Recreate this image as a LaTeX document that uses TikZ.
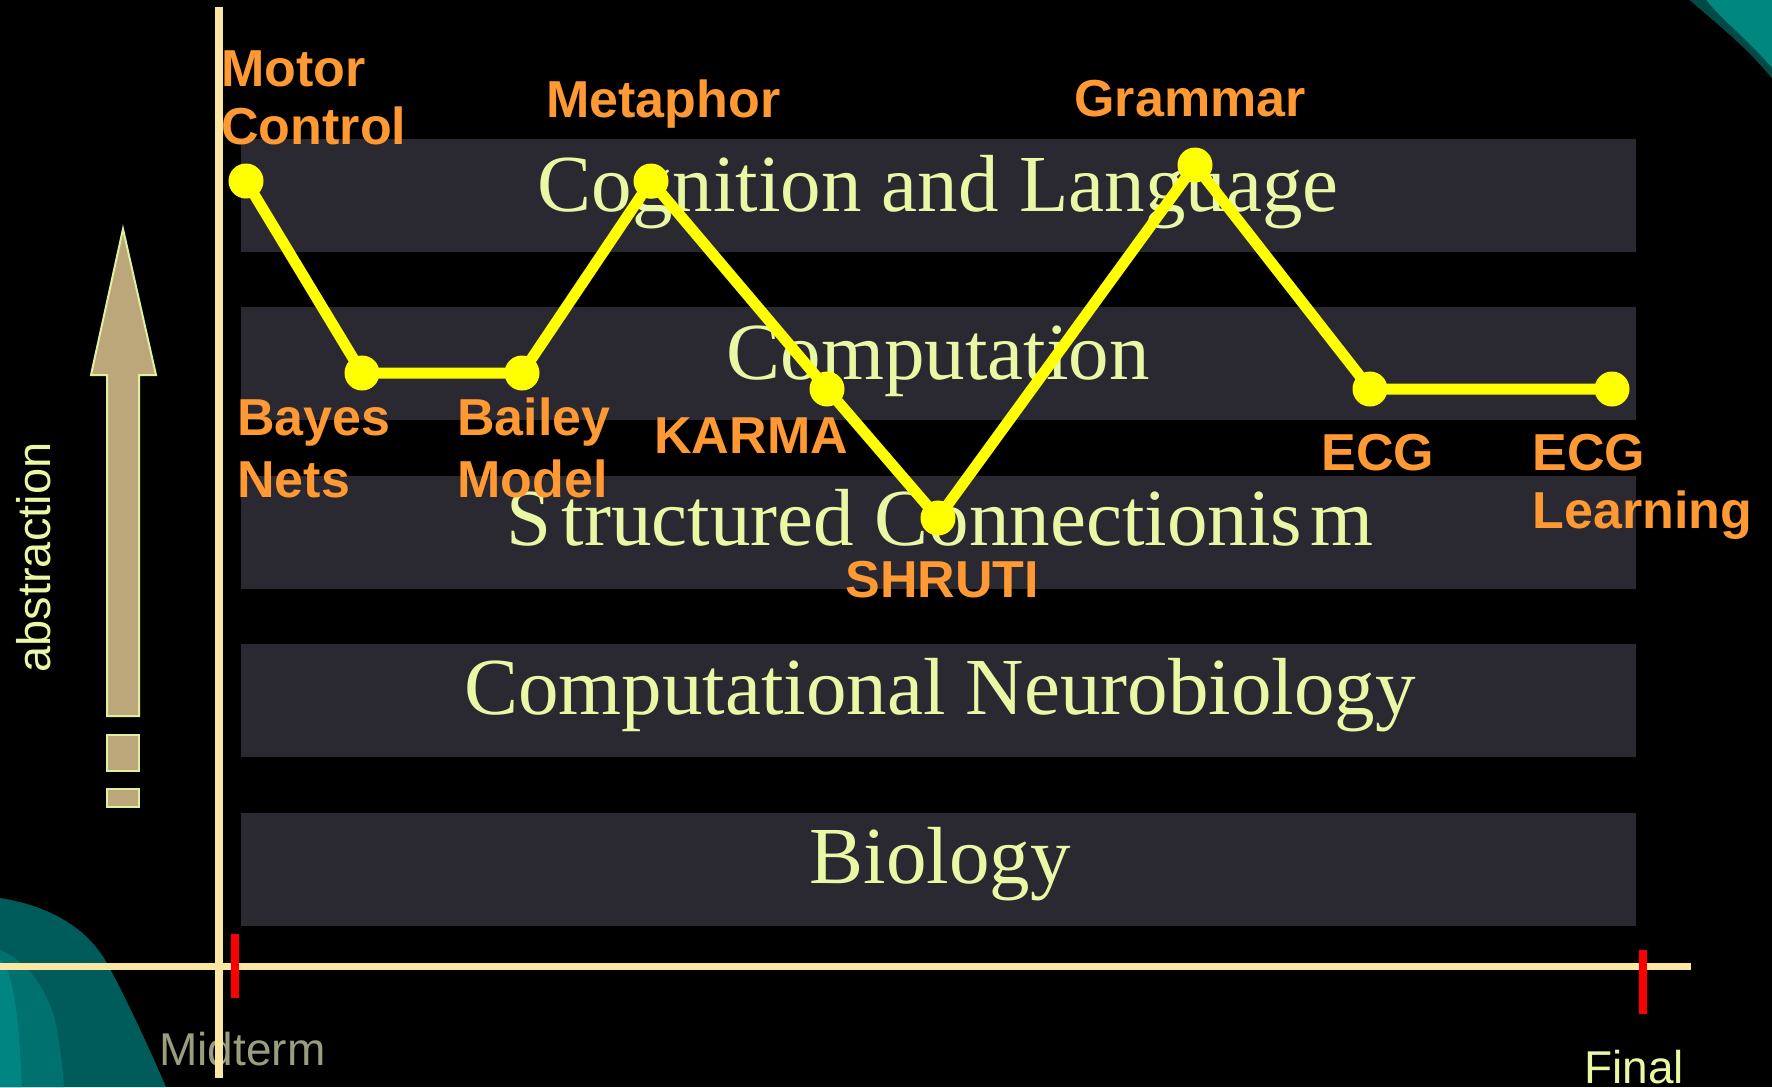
\documentclass[tikz,border=0pt]{standalone}
\usepackage{fontspec}
\newfontfamily\sanslab{Liberation Sans}
\newfontfamily\serband{Liberation Serif}
\definecolor{bandfill}{HTML}{2A2831}
\definecolor{bandtext}{HTML}{E8F8A4}
\definecolor{lineyel}{HTML}{FFFF00}
\definecolor{labor}{HTML}{FF9933}
\definecolor{axiscol}{HTML}{FBE7A4}
\definecolor{tickred}{HTML}{FF0000}
\definecolor{arrowfill}{HTML}{BBA77A}
\definecolor{arrowedge}{HTML}{E0F0A0}
\definecolor{midgray}{HTML}{9C9C80}
\definecolor{tealdark}{HTML}{005C5A}
\definecolor{tealmid}{HTML}{00716F}
\definecolor{teallight}{HTML}{008583}
\definecolor{tealtr}{HTML}{00877F}
\definecolor{tealsh}{HTML}{014A46}
\begin{document}
\begin{tikzpicture}[x=0.5pt,y=-0.5pt,
  bandtxt/.style={inner sep=0pt, text=bandtext, font=\serband\fontsize{40.5}{48}\selectfont},
  lab/.style={inner sep=0pt, anchor=base west, text=labor, font=\sanslab\bfseries\fontsize{26}{30}\selectfont},
  dot/.style={circle, fill=lineyel, minimum size=17.5pt, inner sep=0pt},
  yline/.style={draw=lineyel, line width=5.5pt, line join=round},
  axisline/.style={draw=axiscol},
  tickline/.style={draw=tickred, line width=4pt},
  arrowshape/.style={fill=arrowfill, draw=arrowedge, line width=1pt},
  smalltxt/.style={inner sep=0pt, anchor=base west, font=\sanslab\fontsize{23}{28}\selectfont}]
\fill[black] (0,0) rectangle (1772,1087);
\useasboundingbox (0,0) rectangle (1772,1087);
% teal corner shapes
\fill[tealdark] (0,898) .. controls (50,906) and (88,928) .. (108,965) .. controls (128,1002) and (150,1050) .. (166,1087) -- (0,1087) -- cycle;
\fill[tealmid] (0,950) .. controls (25,960) and (45,985) .. (55,1020) .. controls (60,1045) and (63,1070) .. (64,1087) -- (0,1087) -- cycle;
\fill[teallight] (0,960) .. controls (10,968) and (18,995) .. (22,1087) -- (0,1087) -- cycle;
\fill[tealtr] (1690,0) .. controls (1715,22) and (1745,45) .. (1772,78) -- (1772,0) -- cycle;
\fill[tealsh] (1690,0) .. controls (1715,22) and (1745,45) .. (1772,78) -- (1772,68) .. controls (1748,40) and (1722,20) .. (1706,0) -- cycle;
% bands
\fill[bandfill] (241,139) rectangle (1636,252);
\fill[bandfill] (241,307) rectangle (1636,420);
\fill[bandfill] (241,476) rectangle (1636,589);
\fill[bandfill] (241,644) rectangle (1636,757);
\fill[bandfill] (241,813) rectangle (1636,926);
\node[bandtxt, anchor=base] (tcog) at (938,211) {Cognition and Language};
\node[bandtxt, anchor=base] (tcomp) at (938,379) {Computation};
\node[bandtxt, anchor=base] (tstruct) at (940,545) {S\kern5pt tructured Connectionis\kern4pt m};
\node[bandtxt, anchor=base] (tneuro) at (940,714) {Computational Neurobiology};
\node[bandtxt, anchor=base] (tbio) at (940,883) {Biology};
% arrow
\draw[arrowshape] (123,229) -- (156,375) -- (139,375) -- (139,716) -- (107,716) -- (107,375) -- (91,375) -- cycle;
\draw[arrowshape] (107,735) rectangle (139,771);
\draw[arrowshape] (107,789) rectangle (139,807);
\node[smalltxt, text=bandtext, rotate=90, font=\sanslab\fontsize{23.5}{28}\selectfont] (abs) at (50,673) {abstraction};
% yellow path
\coordinate (p1) at (246,181);
\coordinate (p2) at (362,373);
\coordinate (p3) at (522,373);
\coordinate (p4) at (651,181);
\coordinate (p5) at (827,389);
\coordinate (p6) at (938,518);
\coordinate (p7) at (1195,165);
\coordinate (p8) at (1370,389);
\coordinate (p9) at (1612,389);
\draw[yline] (p1) -- (p2) -- (p3) -- (p4) -- (p5) -- (p6) -- (p7) -- (p8) -- (p9);
\foreach \i in {1,...,9} { \node[dot] (d\i) at (p\i) {}; }
% labels
\node[lab] (motor1) at (221,86) {Motor};
\node[lab] (motor2) at (221,144) {Control};
\node[lab] (meta) at (546,117) {Metaphor};
\node[lab] (bayes1) at (237,435) {Bayes};
\node[lab] (bayes2) at (237,497) {Nets};
\node[lab] (bailey1) at (457,435) {Bailey};
\node[lab] (bailey2) at (457,497) {Model};
\node[lab] (karma) at (654,453) {KARMA};
\node[lab] (shruti) at (845,597) {SHRUTI};
\node[lab] (gram) at (1074,116) {Grammar};
\node[lab] (ecg) at (1321,470) {ECG};
\node[lab] (ecgl1) at (1532,470) {ECG};
\node[lab] (ecgl2) at (1532,528) {Learning};
% time labels
\node[smalltxt, text=midgray] (mid) at (159,1065) {Midterm};
\node[smalltxt, text=bandtext] (fin) at (1584,1083) {Final};
% axes
\coordinate (vtop) at (219,7);
\coordinate (vbot) at (219,1078);
\coordinate (hl) at (0,966.5);
\coordinate (hr) at (1691,966.5);
\draw[axisline, line width=4pt] (vtop) -- (vbot);
\draw[axisline, line width=3.5pt] (hl) -- (hr);
\coordinate (m1) at (235,934);
\coordinate (m2) at (235,998);
\coordinate (f1) at (1643,950);
\coordinate (f2) at (1643,1014);
\draw[tickline] (m1) -- (m2);
\draw[tickline] (f1) -- (f2);
\end{tikzpicture}
\end{document}
